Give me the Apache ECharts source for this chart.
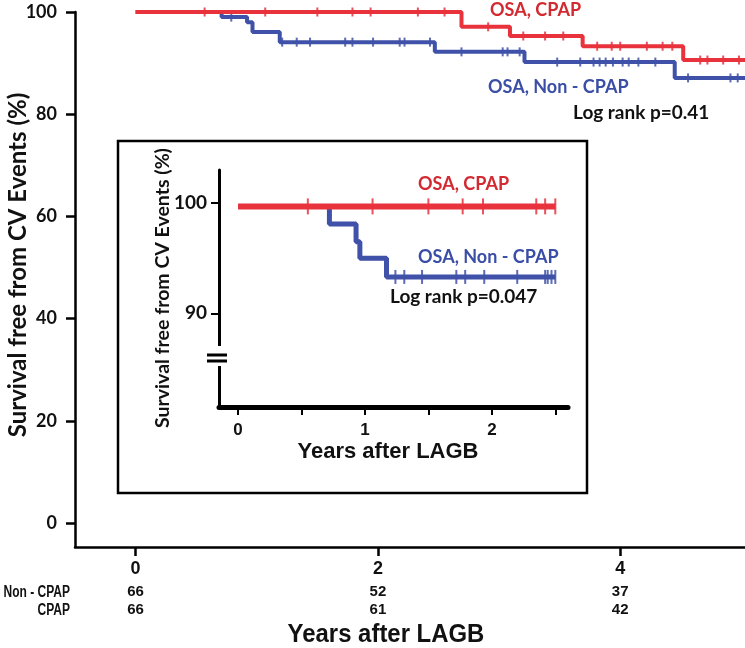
<!DOCTYPE html>
<html>
<head>
<meta charset="utf-8">
<script src="https://cdn.jsdelivr.net/npm/echarts@6/dist/echarts.min.js"></script>
<style>
html,body{margin:0;padding:0;background:#fff;}
#chart{width:745px;height:648px;}
</style>
</head>
<body>
<div id="chart"></div>
<script>
// ---------------- DATA ----------------
// Main Kaplan-Meier curves (years after LAGB, survival %)
const mainCpapTimes = [0, 2.69, 3.09, 3.69, 4.52, 5.03];
const mainCpapSurv  = [100, 97.1, 95.3, 93.3, 90.6, 90.6];
const mainNonTimes  = [0, 0.71, 0.92, 0.965, 1.19, 2.47, 3.21, 4.45, 5.03];
const mainNonSurv   = [100, 99.0, 98.0, 96.1, 94.1, 92.2, 90.2, 87.1, 87.1];
// censor marks (years)
const mainCpapCensor = [0.57, 1.07, 1.50, 1.79, 1.94, 2.33, 2.55, 2.91, 3.20, 3.38, 3.53, 3.81, 3.93, 4.00, 4.22, 4.35, 4.43, 4.66, 4.72, 4.85, 4.98];
const mainNonCensor  = [0.79, 1.21, 1.33, 1.44, 1.73, 1.79, 1.96, 2.18, 2.22, 2.43, 2.69, 3.03, 3.07, 3.17, 3.48, 3.67, 3.78, 3.83, 3.88, 3.94, 4.02, 4.07, 4.15, 4.29, 4.56, 4.91, 4.97];
// numbers at risk
const riskTimes   = [0, 2, 4];
const riskNonCpap = [66, 52, 37];
const riskCpap    = [66, 61, 42];
const riskRowLabels = ['Non - CPAP', 'CPAP'];
const mainYTicks  = [0, 20, 40, 60, 80, 100];

// Inset curves
const insetCpapTimes = [0, 2.5];
const insetCpapSurv  = [99.7, 99.7];
const insetNonTimes  = [0, 0.72, 0.93, 0.96, 1.17, 2.5];
const insetNonSurv   = [99.7, 98.1, 96.5, 95.0, 93.3, 93.3];
const insetCpapCensor = [0.55, 1.06, 1.50, 1.77, 1.93, 2.35, 2.42, 2.50];
const insetNonCensor  = [1.24, 1.31, 1.45, 1.72, 1.79, 1.94, 2.20, 2.42, 2.44, 2.47, 2.50];
const insetXTicks  = [0, 0.5, 1, 1.5, 2, 2.5];
const insetXLabels = [0, 1, 2];
const insetYTicks  = [90, 100];

// ---------------- HELPERS ----------------
function pairs(T, S) { return T.map((t, i) => [t, S[i]]); }
function levelAt(T, S, t) {
  let v = S[0];
  for (let i = 0; i < T.length; i++) { if (T[i] <= t) v = S[i]; }
  return v;
}
function censorPts(C, T, S) { return C.map(t => [t, levelAt(T, S, t)]); }

const RED = '#e8323c', BLUE = '#3f51a8';
const RED_TXT = '#d22a30', BLUE_TXT = '#3b4ea6';
const CAL = 'Lato, "Open Sans", sans-serif';
const ARIAL = '"Liberation Sans", Arial, sans-serif';

const chart = echarts.init(document.getElementById('chart'), null, {renderer: 'canvas'});

function lineSeries(name, xi, data, color, width, z) {
  return {name, type: 'line', xAxisIndex: xi, yAxisIndex: xi, data, step: 'end',
    showSymbol: false, symbol: 'none', lineStyle: {color, width}, z, silent: true, animation: false};
}
function censorSeries(name, xi, data, color, size, z) {
  return {name, type: 'scatter', xAxisIndex: xi, yAxisIndex: xi, data, symbol: 'rect',
    symbolSize: size, itemStyle: {color, opacity: 0.85}, z, silent: true, animation: false};
}

const option = {
  backgroundColor: '#fff',
  animation: false,
  grid: [
    {left: 75, right: 0, top: 12, bottom: 101, containLabel: false},
    {left: 219, right: 177, top: 170, bottom: 241, containLabel: false}
  ],
  xAxis: [
    {type: 'value', gridIndex: 0, min: -0.5, max: 5.03,
      axisLine: {show: true, onZero: false, lineStyle: {color: '#000', width: 2.5}},
      axisTick: {show: true, customValues: riskTimes, length: 9, lineStyle: {color: '#000', width: 2.5}},
      splitLine: {show: false},
      axisLabel: {show: true, customValues: riskTimes, margin: 9,
        formatter: function (v) {
          const i = riskTimes.indexOf(v);
          return '{t|' + v + '}\n{n|' + riskNonCpap[i] + '}\n{n|' + riskCpap[i] + '}';
        },
        rich: {
          t: {fontFamily: ARIAL, fontWeight: 'bold', fontSize: 18, color: '#111', lineHeight: 27},
          n: {fontFamily: ARIAL, fontWeight: 'bold', fontSize: 15, color: '#111', lineHeight: 18}
        }
      }
    },
    {type: 'value', gridIndex: 1, min: -0.15, max: 2.6,
      axisLine: {show: true, onZero: false, lineStyle: {color: '#000', width: 5}},
      axisTick: {show: true, customValues: insetXTicks, length: 8, lineStyle: {color: '#000', width: 2}},
      splitLine: {show: false},
      axisLabel: {show: true, customValues: insetXLabels, margin: 15,
        fontFamily: ARIAL, fontWeight: 'bold', fontSize: 17, color: '#111'}
    }
  ],
  yAxis: [
    {type: 'value', gridIndex: 0, min: -4.7, max: 100,
      axisLine: {show: true, onZero: false, lineStyle: {color: '#000', width: 2.5}},
      axisTick: {show: true, customValues: mainYTicks, length: 9, lineStyle: {color: '#000', width: 2.5}},
      splitLine: {show: false},
      axisLabel: {show: true, customValues: mainYTicks, margin: 18,
        fontFamily: CAL, fontWeight: 'bold', fontSize: 18, color: '#111'}
    },
    {type: 'value', gridIndex: 1, min: 81.5, max: 103,
      axisLine: {show: true, onZero: false, lineStyle: {color: '#000', width: 3}},
      axisTick: {show: true, customValues: insetYTicks, length: 8, lineStyle: {color: '#000', width: 2}},
      splitLine: {show: false},
      axisLabel: {show: true, customValues: insetYTicks, margin: 12,
        fontFamily: CAL, fontWeight: 'bold', fontSize: 19, color: '#111'}
    }
  ],
  series: [
    lineSeries('OSA, Non - CPAP', 0, pairs(mainNonTimes, mainNonSurv), BLUE, 4, 3),
    censorSeries('Non-CPAP censored', 0, censorPts(mainNonCensor, mainNonTimes, mainNonSurv), BLUE, [2, 9], 4),
    lineSeries('OSA, CPAP', 0, pairs(mainCpapTimes, mainCpapSurv), RED, 4, 5),
    censorSeries('CPAP censored', 0, censorPts(mainCpapCensor, mainCpapTimes, mainCpapSurv), RED, [2, 9], 6),
    lineSeries('Inset OSA, Non - CPAP', 1, pairs(insetNonTimes, insetNonSurv), BLUE, 5, 13),
    censorSeries('Inset Non-CPAP censored', 1, censorPts(insetNonCensor, insetNonTimes, insetNonSurv), BLUE, [2, 14], 14),
    lineSeries('Inset OSA, CPAP', 1, pairs(insetCpapTimes, insetCpapSurv), RED, 6, 15),
    censorSeries('Inset CPAP censored', 1, censorPts(insetCpapCensor, insetCpapTimes, insetCpapSurv), RED, [2, 16], 16)
  ],
  graphic: [
    // inset frame
    {type: 'rect', z: 0, shape: {x: 118, y: 141, width: 469, height: 352},
      style: {fill: '#fff', stroke: '#000', lineWidth: 2.5}},
    // axis break on inset y axis
    {type: 'rect', z: 100, shape: {x: 212, y: 346, width: 14, height: 20}, style: {fill: '#fff'}},
    {type: 'line', z: 101, shape: {x1: 207, y1: 355, x2: 227, y2: 355}, style: {stroke: '#000', lineWidth: 3}},
    {type: 'line', z: 101, shape: {x1: 207, y1: 361, x2: 227, y2: 361}, style: {stroke: '#000', lineWidth: 3}},
    // main y-axis title
    {type: 'text', z: 50, x: 18, y: 265, rotation: Math.PI / 2,
      style: {text: 'Survival free from CV Events (%)', fontFamily: CAL, fontWeight: 'bold', fontSize: 24,
        fill: '#111', align: 'center', verticalAlign: 'middle'}},
    // inset y-axis title
    {type: 'text', z: 50, x: 163, y: 288, rotation: Math.PI / 2,
      style: {text: 'Survival free from CV Events (%)', fontFamily: CAL, fontWeight: 'bold', fontSize: 19.5,
        fill: '#111', align: 'center', verticalAlign: 'middle'}},
    // main x title
    {type: 'text', z: 50, x: 386, y: 635, scaleX: 0.92,
      style: {text: 'Years after LAGB', fontFamily: ARIAL, fontWeight: 'bold', fontSize: 26,
        fill: '#111', align: 'center', verticalAlign: 'middle'}},
    // inset x title
    {type: 'text', z: 50, x: 388, y: 452,
      style: {text: 'Years after LAGB', fontFamily: ARIAL, fontWeight: 'bold', fontSize: 22,
        fill: '#111', align: 'center', verticalAlign: 'middle'}},
    // numbers at risk row labels
    {type: 'text', z: 50, x: 70, y: 593, scaleX: 0.75,
      style: {text: riskRowLabels[0], fontFamily: ARIAL, fontWeight: 'bold', fontSize: 16, fill: '#111', align: 'right', verticalAlign: 'middle'}},
    {type: 'text', z: 50, x: 70, y: 611, scaleX: 0.75,
      style: {text: riskRowLabels[1], fontFamily: ARIAL, fontWeight: 'bold', fontSize: 16, fill: '#111', align: 'right', verticalAlign: 'middle'}},
    // main annotations
    {type: 'text', z: 50, x: 490, y: 10,
      style: {text: 'OSA, CPAP', fontFamily: CAL, fontWeight: 'bold', fontSize: 18, fill: RED_TXT, align: 'left', verticalAlign: 'middle'}},
    {type: 'text', z: 50, x: 488, y: 87,
      style: {text: 'OSA, Non - CPAP', fontFamily: CAL, fontWeight: 'bold', fontSize: 18, fill: BLUE_TXT, align: 'left', verticalAlign: 'middle'}},
    {type: 'text', z: 50, x: 573, y: 113,
      style: {text: 'Log rank p=0.41', fontFamily: CAL, fontWeight: 'bold', fontSize: 19, fill: '#111', align: 'left', verticalAlign: 'middle'}},
    // inset annotations
    {type: 'text', z: 50, x: 418, y: 184,
      style: {text: 'OSA, CPAP', fontFamily: CAL, fontWeight: 'bold', fontSize: 18, fill: RED_TXT, align: 'left', verticalAlign: 'middle'}},
    {type: 'text', z: 50, x: 418, y: 257,
      style: {text: 'OSA, Non - CPAP', fontFamily: CAL, fontWeight: 'bold', fontSize: 18, fill: BLUE_TXT, align: 'left', verticalAlign: 'middle'}},
    {type: 'text', z: 50, x: 390, y: 297,
      style: {text: 'Log rank p=0.047', fontFamily: CAL, fontWeight: 'bold', fontSize: 19, fill: '#111', align: 'left', verticalAlign: 'middle'}}
  ]
};
chart.setOption(option);
</script>
</body>
</html>
